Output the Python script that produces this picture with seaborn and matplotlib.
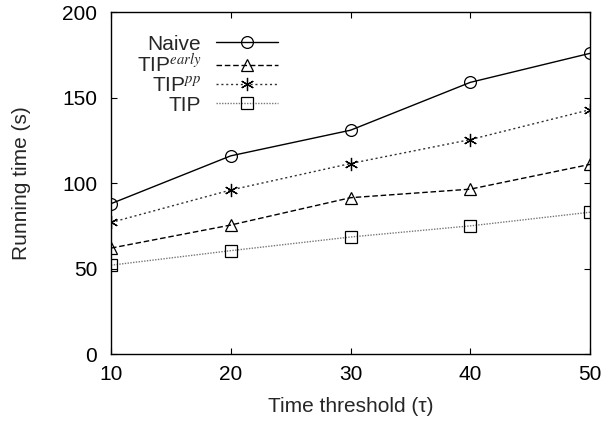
import matplotlib
matplotlib.use("Agg")
import matplotlib.pyplot as plt
import seaborn as sns

# values
thresholds = [10, 20, 30, 40, 50]
naive = [88, 116, 131, 159, 176]
tip_early = [62, 75.5, 91.5, 96.5, 111]
tip_pp = [77, 96, 111.5, 125.5, 143]
tip = [52, 60.5, 68.5, 75, 83]

series_labels = ["Naive", "TIP$^{early}$", "TIP$^{pp}$", "TIP"]
series_values = [naive, tip_early, tip_pp, tip]
series_markers = ["o", "^", (6, 2, 0), "s"]
series_sizes = [8.5, 8.5, 9.5, 8]
series_styles = ["-", (0, (4, 2)), (0, (1.5, 2)), (0, (1, 1))]
series_colors = ["black", "black", "#333333", "#777777"]

sns.set_style("ticks")
plt.rcParams["font.family"] = ["Liberation Sans", "DejaVu Sans"]
plt.rcParams["mathtext.fontset"] = "stix"

fig = plt.figure(figsize=(6.01, 4.25), dpi=100)
ax = fig.add_axes([0.1847, 0.167, 0.797, 0.804])

for label, vals, mk, ms, ls, col in zip(series_labels, series_values, series_markers,
                                        series_sizes, series_styles, series_colors):
    sns.lineplot(x=thresholds, y=vals, ax=ax, label=label, marker=mk, markersize=ms,
                 markerfacecolor="none", markeredgecolor="black", markeredgewidth=0.9,
                 linestyle=ls, color=col, linewidth=1.0)

ax.set_xlim(10, 50)
ax.set_ylim(0, 200)
ax.set_xticks(thresholds)
ax.set_yticks([0, 50, 100, 150, 200])
ax.tick_params(direction="in", length=4, width=0.8, labelsize=15,
               top=True, right=True, colors="black")
ax.tick_params(axis="x", pad=8)
ax.tick_params(axis="y", pad=10)
for sp in ax.spines.values():
    sp.set_linewidth(1.0)
    sp.set_color("black")

ax.set_xlabel("Time threshold (τ)", fontsize=15, labelpad=9)
ax.set_ylabel("Running time (s)", fontsize=15, labelpad=22)

ax.legend(loc="upper right", bbox_to_anchor=(0.349, 0.935), markerfirst=False,
          frameon=False, fontsize=15, handlelength=3.0, labelspacing=0.0,
          borderaxespad=0, borderpad=0, handletextpad=0.7)

fig.savefig("out.png", dpi=100)
